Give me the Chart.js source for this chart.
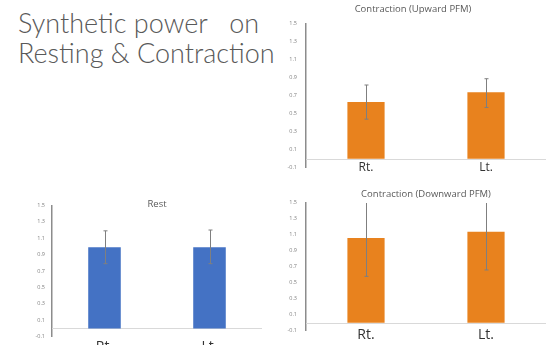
<!DOCTYPE html>
<html>
<head>
<meta charset="utf-8">
<script src="https://cdn.jsdelivr.net/npm/chart.js@4/dist/chart.umd.min.js"></script>
<style>
    html, body { margin: 0; padding: 0; background: #fff; }
    body { width: 549px; height: 345px; overflow: hidden; position: relative; }
    .slide-title {
        position: absolute; left: 18px; top: 8px;
        font-family: Lato, "Open Sans", sans-serif; font-weight: 300;
        font-size: 27px; line-height: 30px; color: #595959; white-space: pre;
    }
    canvas { position: absolute; }
</style>
</head>
<body>
<div class="slide-title">Synthetic power   on
Resting &amp; Contraction</div>
<canvas id="upwardChart" width="269" height="180" style="left:280px;top:0px"></canvas>
<canvas id="downwardChart" width="269" height="165" style="left:280px;top:180px"></canvas>
<canvas id="restChart" width="280" height="170" style="left:0px;top:190px"></canvas>
<script>
const categories = ['Rt.', 'Lt.'];
const yMin = -0.1, yMax = 1.5, yStep = 0.2;

const restMeans = [0.99, 0.99];
const restLow = [0.79, 0.79];
const restHigh = [1.19, 1.20];

const upwardMeans = [0.63, 0.74];
const upwardLow = [0.44, 0.57];
const upwardHigh = [0.82, 0.89];

const downwardMeans = [1.06, 1.14];
const downwardLow = [0.58, 0.66];
const downwardHigh = [1.54, 1.62];

// zero line + error bars, drawn through the y scale
const errorBarPlugin = {
    id: 'errorBars',
    beforeDatasetsDraw(chart) {
        const { ctx, chartArea, scales } = chart;
        const y0 = Math.round(scales.y.getPixelForValue(0)) + 0.5;
        ctx.save();
        ctx.strokeStyle = '#d9d9d9';
        ctx.lineWidth = 1;
        ctx.beginPath();
        ctx.moveTo(chartArea.left, y0);
        ctx.lineTo(chartArea.right, y0);
        ctx.stroke();
        ctx.restore();
    },
    afterDatasetsDraw(chart, args, opts) {
        const { ctx, chartArea, scales } = chart;
        const meta = chart.getDatasetMeta(0);
        ctx.save();
        ctx.beginPath();
        ctx.rect(chartArea.left, chartArea.top, chartArea.right - chartArea.left, chartArea.bottom - chartArea.top);
        ctx.clip();
        ctx.strokeStyle = '#7f7f7f';
        ctx.lineWidth = 1;
        meta.data.forEach((bar, i) => {
            const x = Math.round(bar.x) + 0.5;
            const lo = scales.y.getPixelForValue(opts.low[i]);
            const hi = scales.y.getPixelForValue(opts.high[i]);
            ctx.beginPath();
            ctx.moveTo(x, lo); ctx.lineTo(x, hi);
            ctx.moveTo(x - 2, lo); ctx.lineTo(x + 2, lo);
            ctx.moveTo(x - 2, hi); ctx.lineTo(x + 2, hi);
            ctx.stroke();
        });
        ctx.restore();
    }
};

function makeChart(canvasId, cfg) {
    return new Chart(document.getElementById(canvasId), {
        type: 'bar',
        data: {
            labels: categories,
            datasets: [{
                data: cfg.means,
                backgroundColor: cfg.color,
                barPercentage: 0.31,
                categoryPercentage: 1
            }]
        },
        plugins: [errorBarPlugin],
        options: {
            responsive: false,
            devicePixelRatio: 1,
            animation: false,
            layout: { padding: { left: 0, right: cfg.padRight, top: 0, bottom: 0 } },
            plugins: {
                legend: { display: false },
                tooltip: { enabled: false },
                title: {
                    display: true,
                    text: cfg.title,
                    fullSize: cfg.titleFull,
                    color: '#595959',
                    font: { family: 'Open Sans', size: 9.5, weight: 'normal' },
                    padding: cfg.titlePad
                },
                errorBars: { low: cfg.low, high: cfg.high }
            },
            scales: {
                x: {
                    grid: { display: false, drawTicks: false },
                    border: { display: false },
                    ticks: {
                        color: '#333333',
                        mirror: cfg.labelMirror,
                        padding: cfg.labelPad,
                        font: { family: 'Open Sans', size: cfg.labelSize }
                    },
                    afterFit: (scale) => { scale.height = cfg.xAxisHeight; }
                },
                y: {
                    min: yMin,
                    max: yMax,
                    grid: { display: false, drawTicks: false },
                    border: { display: true, color: '#8c8c8c', width: 1.5 },
                    ticks: {
                        stepSize: yStep,
                        color: '#7f7f7f',
                        padding: cfg.tickPad,
                        font: { family: 'Open Sans', size: 5.5 },
                        callback: (v) => Number(v.toFixed(1)).toString()
                    },
                    afterFit: (scale) => { scale.width = cfg.yAxisWidth; }
                }
            }
        }
    });
}

makeChart('upwardChart', {
    title: 'Contraction (Upward PFM)', titleFull: true,
    means: upwardMeans, low: upwardLow, high: upwardHigh,
    color: '#E8821E',
    padRight: 3, yAxisWidth: 26, xAxisHeight: 12,
    titlePad: { top: 4, bottom: 8.5 },
    labelMirror: true, labelPad: -7, labelSize: 12, tickPad: 9
});

makeChart('downwardChart', {
    title: 'Contraction (Downward PFM)', titleFull: false,
    means: downwardMeans, low: downwardLow, high: downwardHigh,
    color: '#E8821E',
    padRight: 3, yAxisWidth: 26, xAxisHeight: 14.3,
    titlePad: { top: 9, bottom: 2.5 },
    labelMirror: true, labelPad: -13, labelSize: 14, tickPad: 9
});

makeChart('restChart', {
    title: 'Rest', titleFull: false,
    means: restMeans, low: restLow, high: restHigh,
    color: '#4472C4',
    padRight: 18, yAxisWidth: 52, xAxisHeight: 23.3,
    titlePad: { top: 8.5, bottom: -4.5 },
    labelMirror: false, labelPad: 2, labelSize: 14, tickPad: 7
});
</script>
</body>
</html>
